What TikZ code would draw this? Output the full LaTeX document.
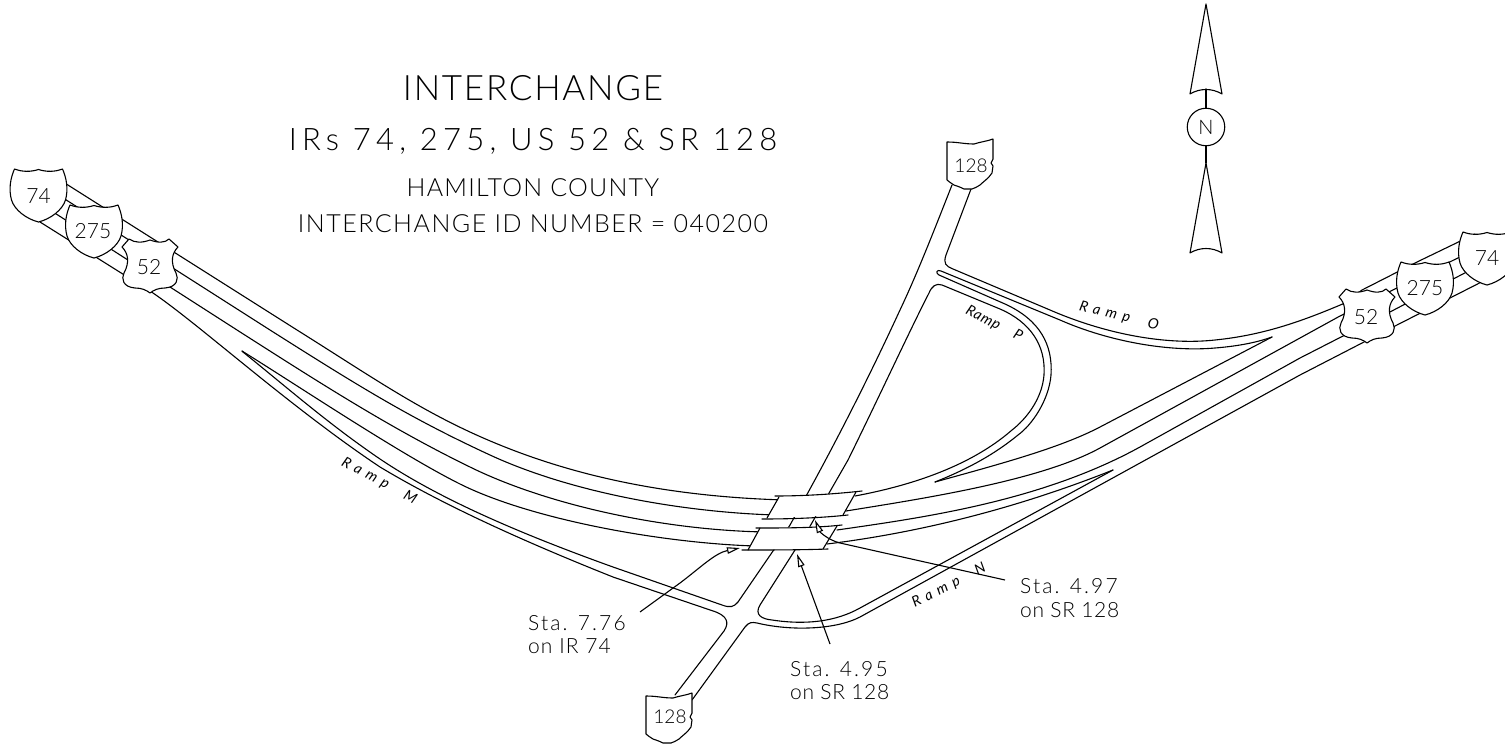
\documentclass[tikz,border=0pt]{standalone}
\usepackage{fontspec}
\setmainfont{Lato}[UprightFont=* Light,ItalicFont=* Light Italic]
\newfontfamily\rampfont{Lato}[UprightFont=*,ItalicFont=* Italic]
\usetikzlibrary{arrows.meta}
\tikzset{
  road/.style={draw=black,line width=1.1pt,line cap=round,line join=round},
  deck/.style={fill=white,draw=none},
  leader/.style={draw=black,line width=1.1pt,-{Triangle[open,fill=white,length=13pt,width=6.5pt]}},
  lab/.style={inner sep=0pt,anchor=west,text=black,font=\fontsize{21}{21}\selectfont},
  title/.style={inner sep=0pt,anchor=center,text=black},
  shieldtxt/.style={inner sep=0pt,font=\fontsize{21}{21}\selectfont},
  ohiotxt/.style={inner sep=0pt,font=\fontsize{19}{19}\selectfont},
  ramp/.style={inner sep=0pt,font=\fontsize{14.5}{15}\rampfont\itshape},
  ishield/.pic={\draw[fill=white,line width=1.1pt,line join=round]
    (-24,-26) .. controls (-16,-23) and (-8,-23) .. (0,-25.5)
    .. controls (8,-23) and (16,-23) .. (24,-26)
    .. controls (28,-17) and (30,-6) .. (27,5)
    .. controls (24,15) and (12,24) .. (0,27)
    .. controls (-12,24) and (-24,15) .. (-27,5)
    .. controls (-30,-6) and (-28,-17) .. (-24,-26) -- cycle;},
  ushield/.pic={\draw[fill=white,line width=1.1pt,line join=round]
    (-28,-19) -- (-21,-27) .. controls (-15,-23) and (-8,-23) .. (0,-26)
    .. controls (8,-23) and (15,-23) .. (19,-27) -- (28,-19)
    .. controls (22,-13) and (20,-4) .. (26,7)
    .. controls (29,13) and (27,21) .. (15,22)
    .. controls (8,22) and (4,24) .. (0,27)
    .. controls (-4,24) and (-8,22) .. (-15,22)
    .. controls (-27,21) and (-29,13) .. (-26,7)
    .. controls (-20,-4) and (-22,-13) .. (-28,-19) -- cycle;},
  oshield/.pic={\draw[fill=white,line width=1.1pt,line join=round]
    (-23,-21) .. controls (-12,-21) and (-6,-19) .. (4,-19)
    .. controls (10,-21) and (18,-22) .. (23,-24)
    -- (23,-4) -- (21,0) -- (23,3) -- (22,10)
    .. controls (18,16) and (14,18) .. (10,22)
    .. controls (7,24) and (5,25) .. (2,26)
    .. controls (-2,26) and (-4,26) .. (-6,26)
    .. controls (-10,24) and (-13,23) .. (-16,22)
    .. controls (-19,20) and (-21,19) .. (-23,17) -- cycle;},
}
\begin{document}
\begin{tikzpicture}[x=1pt,y=-1pt]
\useasboundingbox (0,0) rectangle (1505,744);
% main lines, west
\draw[road] (60,180) -- (297,330) .. controls (380,382) and (430,418) .. (510,449) .. controls (590,480) and (680,497) .. (785,500);
\draw[road] (60,196) -- (270,330) .. controls (360,387) and (410,418) .. (490,455) .. controls (570,492) and (680,512) .. (775,515);
\draw[road] (50,210) -- (237,330) .. controls (320,383) and (390,428) .. (470,467) .. controls (545,504) and (660,530) .. (765,532);
\draw[road] (242,351) .. controls (300,387) and (400,454) .. (460,484) .. controls (530,519) and (660,543) .. (755,546);
% ramp M
\draw[road] (40,222) -- (153,293) .. controls (200,325) and (290,407) .. (380,467) .. controls (430,497) and (500,532) .. (613,577) -- (716,612) .. controls (726,616) and (730,622) .. (724,631) -- (675,695);
\draw[road] (242,351) -- (243,352) .. controls (290,390) and (330,425) .. (380,459) .. controls (435,496) and (510,530) .. (613,567) -- (722,605) .. controls (730,608) and (734,607) .. (738,602) -- (773,551) -- (790,525);
% SR 128
\draw[road] (952,185) .. controls (935,228) and (918,272) .. (900,310) .. controls (870,375) and (835,445) .. (790,525);
\draw[road] (971,189) -- (946,255) .. controls (943,264) and (946,266) .. (953,269) -- (1050,310) .. controls (1110,336) and (1170,345) .. (1215,340) .. controls (1265,335) and (1305,320) .. (1345,303) -- (1362,290) -- (1417,262) -- (1475,234);
\draw[road] (848,460) .. controls (880,395) and (910,330) .. (929,293) .. controls (932,286) and (936,283) .. (942,285) -- (1000,309) .. controls (1030,322) and (1046,345) .. (1044,375) .. controls (1042,400) and (1025,420) .. (1012,430) .. controls (980,458) and (930,482) .. (855,496);
\draw[road] (848,460) -- (809,528) -- (760,605) .. controls (754,615) and (762,619) .. (772,620) .. controls (805,625) and (835,622) .. (860,608) -- (1058,500) -- (1113,470);
\draw[road] (1272,337) .. controls (1258,342) and (1240,346) .. (1215,348) .. controls (1170,352) and (1110,342) .. (1060,320) -- (941,271) .. controls (937,269) and (935,273) .. (939,275) -- (1005,304) .. controls (1040,320) and (1053,345) .. (1051,375) .. controls (1049,400) and (1032,425) .. (1018,435) .. controls (990,458) and (960,472) .. (935,482);
\draw[road] (935,482) .. controls (1000,464) and (1060,448) .. (1100,427) -- (1272,337);
\draw[road] (846,511) .. controls (920,499) and (1040,481) .. (1100,448) -- (1340,316) -- (1470,252);
\draw[road] (837,530) .. controls (920,518) and (1040,502) .. (1140,447) -- (1300,358) -- (1388,313) -- (1505,252);
\draw[road] (827,544) .. controls (900,535) and (1000,515) .. (1113,470);
\draw[road] (1505,270) -- (1395,326) -- (1300,375) -- (860,617) .. controls (835,630) and (790,631) .. (757,623) .. controls (752,622) and (749,622) .. (745,627) -- (692,700);
% bridges
\fill[deck] (779,497) -- (856,492) -- (843,515) -- (767,518) -- cycle;
\fill[deck] (760,528) -- (837,526) -- (823,549) -- (748,550) -- cycle;
\draw[road] (775,496) .. controls (805,496) and (835,494) .. (862,491);
\draw[road] (762,519) .. controls (790,519) and (820,518) .. (848,515);
\draw[road] (779,497) -- (767,518);
\draw[road] (856,492) -- (843,515);
\draw[road] (756,528) .. controls (785,528) and (815,528) .. (842,525);
\draw[road] (742,550) .. controls (770,550) and (800,550) .. (828,549);
\draw[road] (760,528) -- (748,550);
\draw[road] (837,526) -- (823,549);
% shields
\pic at (38.5,195) {ishield};
\pic at (94,231) {ishield};
\pic at (150,266) {ushield};
\pic at (1487,258) {ishield};
\pic at (1425,288) {ishield};
\pic at (1367,316) {ushield};
\pic at (970,163) {oshield};
\pic at (669,717) {oshield};
\node[shieldtxt] (s74w) at (38.5,196) {74};
\node[shieldtxt] (s275w) at (93,231) {275};
\node[shieldtxt] (s52w) at (149,267) {52};
\node[shieldtxt] (s74e) at (1487,258) {74};
\node[shieldtxt] (s275e) at (1425,288) {275};
\node[shieldtxt] (s52e) at (1366,317) {52};
\node[ohiotxt] (s128n) at (971,166) {128};
\node[ohiotxt] (s128s) at (670,717) {128};
% titles
\node[title,font=\fontsize{35}{35}\selectfont] (t1) at (533,88) {\addfontfeature{LetterSpace=5}INTERCHANGE};
\node[title,font=\fontsize{31}{31}\selectfont] (t2) at (533,141) {\addfontfeature{LetterSpace=17}IRs 74, 275, US 52 \& SR 128};
\node[title,font=\fontsize{25}{25}\selectfont] (t3) at (533,188) {\addfontfeature{LetterSpace=5}HAMILTON COUNTY};
\node[title,font=\fontsize{25}{25}\selectfont] (t4) at (533,224) {\addfontfeature{LetterSpace=6}INTERCHANGE ID NUMBER = 040200};
% station labels
\node[lab] (a1) at (528,623) {\addfontfeature{LetterSpace=10}Sta. 7.76};
\node[lab] (a2) at (528,646) {\addfontfeature{LetterSpace=5}on IR 74};
\node[lab] (b1) at (790,669) {\addfontfeature{LetterSpace=10}Sta. 4.95};
\node[lab] (b2) at (790,692) {\addfontfeature{LetterSpace=3}on SR 128};
\node[lab] (c1) at (1020,586) {\addfontfeature{LetterSpace=10}Sta. 4.97};
\node[lab] (c2) at (1020,610) {\addfontfeature{LetterSpace=3}on SR 128};
% leaders
\coordinate (la) at (640,612);
\coordinate (lat) at (740,548);
\coordinate (lb) at (830,644);
\coordinate (lbt) at (797,554);
\coordinate (lc) at (1005,580);
\coordinate (lct) at (815,520);
\draw[leader] (la) -- (680,583) .. controls (700,568) and (715,553) .. (lat);
\draw[leader] (lb) -- (lbt);
\draw[leader] (lc) -- (840,543) .. controls (828,540) and (820,532) .. (lct);
% ramp labels
\node[ramp,rotate=-28] (rm) at (379,481) {\addfontfeature{LetterSpace=40}Ramp\ \ M};
\node[ramp,rotate=27] (rn) at (949,586) {\addfontfeature{LetterSpace=40}Ramp\ \ N};
\node[ramp,rotate=-14] (ro) at (1119,316) {\addfontfeature{LetterSpace=40}Ramp\ \ O};
\node[ramp,rotate=-27] (rp) at (994,324) {\addfontfeature{LetterSpace=5}Ramp\ \ \ \ P};
% north arrow
\node[circle,draw,line width=1.1pt,minimum size=37.5pt,inner sep=0pt,font=\fontsize{20}{20}\selectfont] (north) at (1206,127) {N};
\coordinate (nt) at (1206,89);
\coordinate (nb) at (1206,163);
\draw[road] (north) -- (nt);
\draw[road] (north) -- (nb);
\draw[road] (1206,4) -- (1222,94) .. controls (1212,88) and (1200,88) .. (1190,94) -- cycle;
\draw[road] (1206,163) -- (1222,253) .. controls (1212,247) and (1200,247) .. (1190,253) -- cycle;
\end{tikzpicture}
\end{document}
